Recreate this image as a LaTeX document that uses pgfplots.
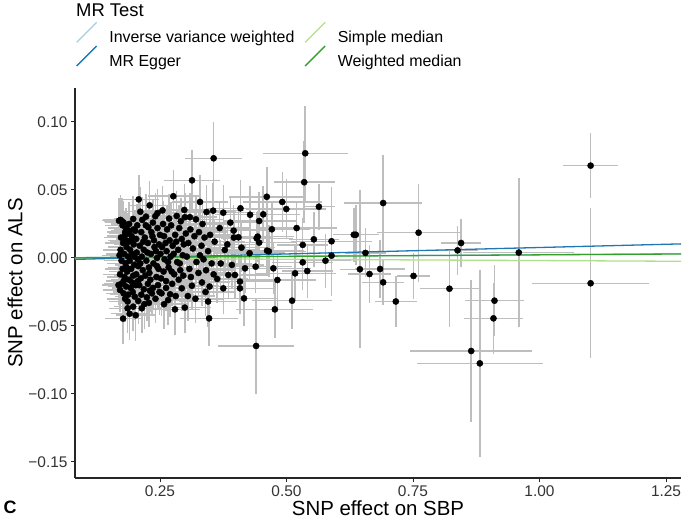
\documentclass[border=0pt]{standalone}
\usepackage{pgfplots}
\pgfplotsset{compat=1.18}
\usepackage{pgfplotstable}
\usepackage{fontspec}
\setmainfont{Liberation Sans}
\definecolor{ivw}{HTML}{A6CEE3}
\definecolor{egger}{HTML}{1F78B4}
\definecolor{smed}{HTML}{B2DF8A}
\definecolor{wmed}{HTML}{33A02C}
\definecolor{errgray}{HTML}{BEBEBE}

\pgfplotstableread{
x y ex ey
0.537 0.077 0.084 0.035
0.535 0.0557 0.060 0.030
0.564 0.0377 0.032 0.017
0.554 0.0137 0.050 0.020
0.532 0.0096 0.050 0.020
0.589 0.0123 0.080 0.040
0.589 0.0017 0.070 0.020
0.532 -0.0032 0.060 0.020
0.541 -0.0096 0.050 0.020
0.577 -0.0020 0.050 0.020
0.633 0.0171 0.033 0.020
0.637 0.0171 0.045 0.022
0.656 0.0037 0.040 0.018
0.645 -0.0083 0.040 0.058
0.664 -0.0118 0.043 0.021
0.685 -0.0081 0.050 0.021
0.691 -0.0179 0.041 0.017
0.691 0.0404 0.077 0.035
0.716 -0.0320 0.042 0.019
0.751 -0.0132 0.032 0.017
0.761 0.0186 0.082 0.036
0.822 -0.0226 0.058 0.028
0.838 0.0056 0.040 0.018
0.845 0.0110 0.040 0.018
0.865 -0.0684 0.120 0.052
0.882 -0.0775 0.125 0.069
0.911 -0.0314 0.058 0.026
0.909 -0.0444 0.059 0.026
0.959 0.0040 0.110 0.055
1.101 0.0679 0.054 0.024
1.101 -0.0186 0.116 0.055
0.175 0.027 0.035 0.017
0.178 0.026 0.036 0.016
0.172 0.028 0.034 0.018
0.169 0.0274 0.033 0.017
0.176 0.024 0.035 0.016
0.183 0.022 0.036 0.015
0.190 0.020 0.037 0.015
0.197 0.0287 0.038 0.017
0.180 0.016 0.035 0.014
0.186 0.018 0.036 0.015
0.193 0.013 0.037 0.014
0.177 0.011 0.035 0.014
0.184 0.008 0.036 0.013
0.172 0.006 0.034 0.014
0.191 0.006 0.037 0.013
0.198 0.010 0.038 0.014
0.179 0.003 0.035 0.013
0.187 0.001 0.036 0.013
0.195 0.003 0.038 0.013
0.174 -0.002 0.034 0.013
0.182 -0.004 0.036 0.013
0.190 -0.002 0.037 0.013
0.199 -0.005 0.038 0.014
0.176 -0.008 0.035 0.014
0.185 -0.010 0.036 0.014
0.193 -0.008 0.037 0.014
0.171 -0.012 0.034 0.014
0.180 -0.014 0.035 0.015
0.189 -0.016 0.036 0.015
0.197 -0.013 0.038 0.015
0.174 -0.019 0.034 0.015
0.168 -0.0199 0.033 0.015
0.171 -0.0235 0.034 0.016
0.183 -0.021 0.035 0.015
0.192 -0.022 0.037 0.016
0.178 -0.026 0.035 0.016
0.187 -0.027 0.036 0.016
0.196 -0.025 0.038 0.016
0.200 -0.0284 0.038 0.017
0.207 -0.0316 0.039 0.017
0.197 -0.0358 0.038 0.018
0.202 -0.0421 0.039 0.019
0.177 -0.0446 0.035 0.019
0.186 -0.032 0.036 0.017
0.181 -0.030 0.035 0.017
0.194 0.016 0.037 0.015
0.170 0.002 0.034 0.013
0.188 0.012 0.036 0.014
0.181 0.019 0.035 0.015
0.195 -0.018 0.037 0.015
0.208 0.0431 0.040 0.018
0.2296 0.0387 0.042 0.018
0.2223 0.0304 0.041 0.017
0.2407 0.0307 0.043 0.017
0.227 0.0226 0.041 0.016
0.205 0.024 0.039 0.016
0.213 0.019 0.040 0.016
0.220 0.015 0.041 0.015
0.233 0.019 0.042 0.016
0.245 0.022 0.044 0.016
0.203 0.014 0.039 0.015
0.210 0.009 0.040 0.014
0.218 0.006 0.041 0.014
0.226 0.011 0.041 0.015
0.238 0.013 0.043 0.015
0.248 0.010 0.044 0.015
0.204 0.004 0.039 0.014
0.214 0.001 0.040 0.014
0.223 -0.002 0.041 0.014
0.232 0.003 0.042 0.014
0.242 0.005 0.043 0.014
0.207 -0.006 0.039 0.014
0.216 -0.009 0.040 0.015
0.228 -0.007 0.041 0.015
0.237 -0.004 0.042 0.014
0.247 -0.008 0.044 0.015
0.203 -0.012 0.039 0.015
0.212 -0.015 0.040 0.015
0.221 -0.013 0.041 0.015
0.231 -0.016 0.042 0.016
0.243 -0.014 0.043 0.016
0.209 -0.020 0.040 0.016
0.218 -0.023 0.041 0.016
0.226 -0.019 0.041 0.016
0.236 -0.022 0.042 0.016
0.246 -0.020 0.044 0.017
0.213 -0.027 0.040 0.017
0.224 -0.029 0.041 0.017
0.234 -0.026 0.042 0.017
0.241 -0.030 0.043 0.018
0.219 -0.034 0.041 0.018
0.249 -0.025 0.044 0.017
0.215 0.028 0.040 0.017
0.236 0.026 0.042 0.017
0.250 0.017 0.044 0.016
0.206 -0.017 0.039 0.015
0.229 -0.011 0.042 0.015
0.244 0.000 0.043 0.014
0.211 0.034 0.040 0.018
0.239 0.008 0.043 0.014
0.2763 0.0454 0.050 0.019
0.283 0.0309 0.050 0.018
0.298 0.0353 0.052 0.019
0.299 0.030 0.052 0.018
0.256 0.025 0.046 0.017
0.264 0.021 0.047 0.017
0.272 0.024 0.048 0.017
0.288 0.022 0.051 0.017
0.258 0.016 0.046 0.016
0.269 0.013 0.048 0.016
0.280 0.017 0.049 0.016
0.293 0.014 0.051 0.016
0.254 0.008 0.045 0.015
0.263 0.005 0.047 0.015
0.275 0.009 0.048 0.015
0.286 0.006 0.050 0.015
0.297 0.010 0.052 0.015
0.259 -0.001 0.046 0.015
0.271 0.001 0.048 0.015
0.284 -0.003 0.050 0.015
0.295 0.002 0.051 0.015
0.257 -0.010 0.046 0.015
0.267 -0.007 0.047 0.015
0.278 -0.012 0.049 0.016
0.290 -0.009 0.050 0.016
0.262 -0.017 0.046 0.016
0.274 -0.019 0.048 0.016
0.287 -0.016 0.050 0.016
0.253 -0.026 0.045 0.017
0.270 -0.0267 0.047 0.017
0.293 -0.0223 0.051 0.017
0.2796 -0.0378 0.049 0.019
0.299 -0.0365 0.052 0.019
0.266 -0.031 0.047 0.018
0.281 -0.028 0.049 0.018
0.255 0.035 0.046 0.018
0.291 0.027 0.051 0.017
0.356 0.0733 0.057 0.027
0.3133 0.0571 0.055 0.022
0.329 0.0412 0.056 0.020
0.342 0.0338 0.058 0.020
0.355 0.0348 0.060 0.020
0.321 0.0284 0.055 0.018
0.310 0.021 0.054 0.017
0.318 0.016 0.054 0.017
0.327 0.019 0.055 0.017
0.338 0.015 0.057 0.017
0.349 0.017 0.058 0.017
0.306 0.011 0.053 0.016
0.315 0.007 0.054 0.016
0.332 0.009 0.056 0.016
0.345 0.005 0.057 0.016
0.358 0.012 0.059 0.017
0.303 0.001 0.053 0.016
0.322 -0.003 0.055 0.016
0.336 -0.001 0.056 0.016
0.352 -0.004 0.058 0.016
0.308 -0.008 0.053 0.016
0.326 -0.011 0.055 0.016
0.341 -0.009 0.057 0.017
0.356 -0.012 0.059 0.017
0.313 -0.0204 0.054 0.017
0.333 -0.018 0.056 0.017
0.348 -0.021 0.058 0.018
0.305 -0.028 0.053 0.018
0.345 -0.032 0.057 0.019
0.347 -0.0444 0.058 0.020
0.320 -0.030 0.055 0.018
0.363 -0.0154 0.060 0.018
0.375 -0.0223 0.062 0.019
0.375 0.0333 0.062 0.020
0.378 0.0059 0.062 0.017
0.385 -0.0125 0.063 0.018
0.392 -0.0051 0.064 0.018
0.398 -0.0125 0.065 0.018
0.3956 0.0201 0.065 0.019
0.396 0.015 0.065 0.018
0.405 0.0152 0.066 0.019
0.409 0.0365 0.067 0.021
0.411 0.0076 0.067 0.018
0.408 -0.0223 0.066 0.019
0.408 -0.0174 0.066 0.019
0.416 -0.0297 0.068 0.020
0.418 -0.0076 0.068 0.018
0.368 0.022 0.061 0.019
0.383 0.010 0.063 0.018
0.370 -0.004 0.061 0.017
0.389 0.026 0.064 0.019
0.428 0.0318 0.070 0.021
0.446 0.0272 0.072 0.021
0.454 0.0321 0.073 0.021
0.461 0.045 0.074 0.022
0.4917 0.0412 0.078 0.022
0.4996 0.036 0.079 0.022
0.441 0.0145 0.071 0.019
0.446 0.0113 0.072 0.019
0.471 0.0211 0.075 0.020
0.520 0.022 0.080 0.020
0.4615 0.0054 0.074 0.019
0.427 0.0035 0.070 0.019
0.439 -0.0064 0.071 0.019
0.474 -0.0076 0.075 0.019
0.482 -0.0162 0.076 0.020
0.517 -0.0113 0.080 0.020
0.477 -0.0378 0.076 0.021
0.511 -0.0314 0.079 0.021
0.440 -0.0647 0.075 0.035
0.443 0.0157 0.071 0.019
0.465 0.0049 0.074 0.019
0.173 0.015 0.034 0.015
0.182 0.013 0.035 0.014
0.189 0.025 0.036 0.016
0.201 0.020 0.038 0.015
0.199 0.001 0.038 0.013
0.206 -0.001 0.039 0.014
0.178 -0.017 0.035 0.015
0.184 -0.007 0.036 0.013
0.202 -0.020 0.039 0.015
0.211 -0.004 0.040 0.014
0.217 0.012 0.040 0.015
0.225 0.004 0.041 0.014
0.230 -0.024 0.042 0.016
0.235 0.016 0.042 0.015
0.244 -0.006 0.043 0.015
0.251 0.003 0.045 0.015
0.252 -0.015 0.045 0.016
0.261 0.011 0.046 0.016
0.266 -0.003 0.047 0.015
0.273 -0.010 0.048 0.016
0.277 0.003 0.049 0.015
0.282 0.012 0.049 0.016
0.289 -0.004 0.050 0.016
0.296 -0.013 0.051 0.016
0.268 0.029 0.047 0.018
0.245 0.033 0.044 0.018
0.222 0.024 0.041 0.016
0.198 0.021 0.038 0.015
0.186 -0.037 0.036 0.018
0.214 -0.037 0.040 0.018
0.228 -0.033 0.042 0.018
0.190 -0.041 0.037 0.019
0.309 0.030 0.053 0.018
0.334 0.025 0.056 0.018
0.311 -0.014 0.054 0.017
0.329 0.002 0.056 0.016
0.340 -0.025 0.057 0.018
0.301 0.018 0.053 0.017
0.262 -0.022 0.046 0.017
0.258 -0.034 0.046 0.018
}\snp

\begin{document}
\begin{tikzpicture}
\begin{axis}[name=ax,
  scale only axis, width=606bp, height=390bp,
  xmin=0.082, xmax=1.2796, ymin=-0.1618, ymax=0.125,
  axis x line*=bottom, axis y line*=left,
  axis line style={line width=1.3bp, black!85, -},
  xtick={0.25,0.5,0.75,1,1.25}, xticklabels={0.25,0.50,0.75,1.00,1.25},
  ytick={-0.15,-0.1,-0.05,0,0.05,0.1},
  yticklabels={−0.15,−0.10,−0.05,0.00,0.05,0.10},
  tick align=outside, major tick length=4bp,
  tick style={line width=1bp, black!85},
  ticklabel style={font=\fontsize{15.5}{18}\selectfont, text=black!80},
  xlabel={SNP effect on SBP}, ylabel={SNP effect on ALS},
  label style={font=\fontsize{20.5}{24}\selectfont},
  xlabel style={at={(axis description cs:0.5,-0.077)}, anchor=center},
  ylabel style={at={(axis description cs:-0.099,0.5)}, anchor=center},
  legend columns=2,
  legend cell align=left,
  legend image code/.code={\draw[#1, line width=1.3bp] (0bp,-4.5bp) -- (20bp,15.5bp);},
  legend style={draw=none, fill=none, inner sep=0pt, outer sep=0pt,
    at={(axis description cs:0.0017,1)}, anchor=south west, yshift=20bp,
    font=\fontsize{16}{19}\selectfont, row sep=1bp,
    nodes={inner sep=0pt},
    /tikz/every even column/.append style={column sep=10bp},
    /tikz/every odd column/.append style={column sep=12bp}},
]
\addplot[only marks, mark=none, forget plot,
  error bars/.cd, x dir=both, x explicit, y dir=both, y explicit,
  error mark=none, error bar style={draw=errgray, line width=1.5bp, solid}]
  table[x=x, y=y, x error=ex, y error=ey] {\snp};
\addplot[only marks, mark=*, mark size=3.1bp, mark options={draw=black, fill=black}, forget plot]
  table[x=x, y=y] {\snp};
\addplot[ivw, line width=1.3bp] coordinates {(0.082,0.000205) (1.2796,0.0032)};
\addlegendentry{Inverse variance weighted}
\addplot[smed, line width=1.3bp] coordinates {(0.082,-0.000156) (1.2796,-0.00243)};
\addlegendentry{Simple median}
\addplot[egger, line width=1.3bp] coordinates {(0.082,-0.00102) (1.2796,0.01036)};
\addlegendentry{MR Egger}
\addplot[wmed, line width=1.3bp] coordinates {(0.082,0.00019) (1.2796,0.00294)};
\addlegendentry{Weighted median}
\end{axis}
\node[anchor=base west, inner sep=0pt, font=\fontsize{18.5}{22}\selectfont] at ([xshift=1bp,yshift=71.3bp]ax.north west) {MR Test};
\node[anchor=center, inner sep=0pt, font=\fontsize{18}{22}\selectfont\bfseries] at ([xshift=-65bp,yshift=-29bp]ax.south west) {C};
\pgfresetboundingbox
\path[use as bounding box] ([shift={(-75bp,-42bp)}]ax.south west) rectangle ([shift={(610bp,478bp)}]ax.south west);
\end{tikzpicture}
\end{document}
